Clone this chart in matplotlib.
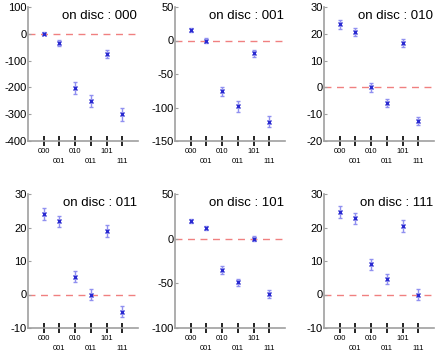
import numpy as np
import matplotlib
matplotlib.use("Agg")
import matplotlib.pyplot as plt

plt.rcParams['font.family'] = ['Liberation Sans', 'DejaVu Sans']
plt.rcParams['axes.unicode_minus'] = False

# state labels on the x axis
states = ['000', '001', '010', '011', '101', '111']

# one panel per "on disc" state
titles = ['on disc : 000', 'on disc : 001', 'on disc : 010',
          'on disc : 011', 'on disc : 101', 'on disc : 111']

vals_000 = [0, -34, -203, -251, -76, -301]
vals_001 = [15, 0, -76, -98, -19, -121]
vals_010 = [23.5, 20.5, 0, -5.8, 16.5, -12.4]
vals_011 = [24, 21.8, 5.3, 0, 18.9, -5.1]
vals_101 = [20, 12, -35, -49, 0, -62]
vals_111 = [24.5, 22.7, 9, 4.6, 20.5, 0]

errs_000 = [6, 10, 22, 22, 14, 24]
errs_001 = [3, 3, 7, 8, 5, 8]
errs_010 = [1.6, 1.5, 1.6, 1.4, 1.6, 1.5]
errs_011 = [1.8, 1.6, 1.7, 1.7, 1.8, 1.6]
errs_101 = [2.5, 2.5, 4, 4, 3, 4]
errs_111 = [1.8, 1.7, 1.6, 1.6, 1.8, 1.6]

all_vals = [vals_000, vals_001, vals_010, vals_011, vals_101, vals_111]
all_errs = [errs_000, errs_001, errs_010, errs_011, errs_101, errs_111]

ylims = [(-400, 100), (-150, 50), (-20, 30), (-10, 30), (-100, 50), (-10, 30)]
yticks = [np.arange(-400, 101, 100), np.arange(-150, 51, 50), np.arange(-20, 31, 10),
          np.arange(-10, 31, 10), np.arange(-100, 51, 50), np.arange(-10, 31, 10)]

W, H = 436, 353
fig = plt.figure(figsize=(W / 100, H / 100), dpi=100)

lefts = [28, 175, 324]
tops = [7, 194]
aw, ah = 110, 134

x = np.arange(1, len(states) + 1)
xlabels = [s if i % 2 == 0 else '\n' + s for i, s in enumerate(states)]
grey = '#a0a0a0'

for k in range(6):
    col = k % 3
    row = k // 3
    ax = fig.add_axes([lefts[col] / W, 1 - (tops[row] + ah) / H, aw / W, ah / H])
    ax.axhline(0, color='#f08080', lw=1, dashes=(5, 4), zorder=1)
    ax.errorbar(x, all_vals[k], yerr=all_errs[k], fmt='x', color='#2828d0',
                ms=3.5, mew=1, ecolor='#9090f0', elinewidth=1, capsize=1.5, zorder=3)
    ax.set_xlim(0, 7)
    ax.set_ylim(*ylims[k])
    ax.set_yticks(yticks[k])
    ax.set_xticks(x)
    ax.set_xticklabels(xlabels, fontsize=5.5, linespacing=1.7)
    ax.tick_params(axis='x', direction='inout', length=7, width=1.2, color='black', pad=1.5)
    ax.tick_params(axis='y', direction='in', length=2, color=grey, labelsize=8, pad=1)
    for s in ['top', 'right']:
        ax.spines[s].set_visible(False)
    for s in ['left', 'bottom']:
        ax.spines[s].set_color(grey)
        ax.spines[s].set_linewidth(1.2)
    ax.text(0.99, 0.975, titles[k], transform=ax.transAxes, ha='right', va='top', fontsize=9.5)

fig.savefig('out.png', dpi=100)
